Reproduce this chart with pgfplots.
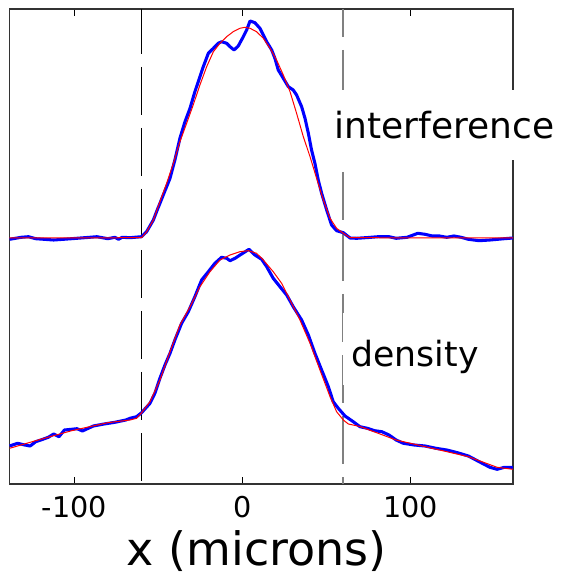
\documentclass[border=0pt]{standalone}
\usepackage{fontspec}
\setmainfont{DejaVu Sans}
\usepackage{pgfplots}
\pgfplotsset{compat=1.18}

\definecolor{trace}{RGB}{0,0,255}
\definecolor{fit}{RGB}{255,0,0}

\begin{document}
\begin{tikzpicture}
\useasboundingbox (-7.1pt,-70.5pt) rectangle (415.9pt,363pt);
\begin{axis}[
  at={(0,0)}, anchor=south west,
  scale only axis, width=377.6pt, height=356.25pt,
  xmin=-138.5, xmax=161, ymin=0, ymax=475,
  xtick={-100,0,100}, ytick=\empty,
  tick align=inside, major tick length=5pt,
  clip=false,
  axis line style={black!80, line width=1pt},
  xtick style={black, line width=0.8pt},
  xticklabel style={font=\fontsize{21.5}{24}\selectfont, anchor=base, yshift=-24.75pt},
  /pgf/number format/assume math mode=true,
]
% boundaries of the central region
\draw[black, line width=0.85pt, dash pattern=on 36pt off 9.75pt, dash phase=2.25pt]
  (axis cs:-60,475) -- (axis cs:-60,0);
\draw[black!50, line width=1.15pt, dash pattern=on 36pt off 9.75pt, dash phase=15pt]
  (axis cs:60,475) -- (axis cs:60,0);

% interference profile (measured)
\addplot[trace, line width=2.3pt, line join=round] coordinates {
(-138.4,244.7) (-131.5,246.7) (-127.2,247.3) (-122.9,245.3) (-112.2,244.0)
(-101.5,245.3) (-90.8,246.7) (-86.5,247.3) (-80.0,245.3) (-75.8,246.7)
(-73.6,244.7) (-71.5,246.7) (-66.8,246.3) (-59.9,247.3) (-56.9,252.3)
(-52.9,264.0) (-51.0,272.3) (-47.0,289.0) (-43.0,305.7) (-40.1,324.0)
(-37.1,345.7) (-34.1,362.3) (-31.1,375.7) (-28.2,392.3) (-25.2,407.3)
(-23.2,417.3) (-20.2,430.7) (-17.2,435.7) (-14.3,440.7) (-12.3,442.3)
(-9.3,440.7) (-7.3,437.3) (-4.9,434.0) (-2.4,438.0) (0.6,447.3)
(2.6,454.0) (4.6,463.0) (7.5,461.3) (10.5,455.7) (12.5,449.0)
(14.5,442.3) (17.5,434.0) (19.4,425.7) (21.4,414.0) (24.4,405.7)
(27.4,397.3) (30.3,394.0) (32.3,389.0) (35.3,377.3) (37.3,365.7)
(39.3,350.7) (41.2,334.0) (43.2,320.7) (45.2,304.0) (47.2,290.7)
(50.2,274.0) (53.1,259.0) (56.1,253.3) (60.1,251.3) (64.1,246.0)
(68.0,245.7) (75.0,246.5) (80.8,247.3) (87.3,247.3) (91.5,245.7)
(98.0,246.7) (104.4,250.7) (108.7,249.7) (113.0,248.0) (117.3,248.0)
(121.6,246.7) (125.9,248.0) (130.2,246.7) (134.5,244.7) (140.9,243.3)
(147.3,244.0) (155.9,245.3) (161.0,246.0)
};
% interference profile (fit)
\addplot[fit, line width=0.75pt] coordinates {
(-138.5,246.0) (-59.9,246.3) (-56.9,252.3) (-52.9,264.0) (-49.0,282.3)
(-45.0,300.7) (-41.0,320.7) (-37.1,342.3) (-33.1,360.7) (-29.2,379.0)
(-25.2,399.0) (-21.2,417.3) (-17.2,432.3) (-13.3,440.7) (-9.3,447.3)
(-5.4,452.3) (-1.4,455.7) (1.6,456.7) (4.6,455.7) (8.5,452.3)
(12.5,445.7) (16.5,435.7) (20.4,424.0) (24.4,409.0) (28.4,392.3)
(32.3,370.7) (36.3,347.3) (40.3,327.3) (44.2,305.7) (48.2,284.0)
(52.2,265.7) (56.1,255.7) (60.1,250.7) (64.1,246.3) (161.0,246.0)
};

% density profile (measured)
\addplot[trace, line width=2.3pt, line join=round] coordinates {
(-138.4,38.0) (-133.7,40.7) (-129.4,39.0) (-126.2,38.0) (-122.9,42.3)
(-118.7,44.7) (-115.4,46.7) (-112.2,50.0) (-109.0,47.3) (-105.8,54.0)
(-101.5,54.7) (-98.3,55.3) (-95.1,53.0) (-88.6,58.0) (-82.2,60.0)
(-75.8,61.7) (-69.3,64.0) (-66.8,65.7) (-62.9,67.3) (-59.9,71.3)
(-54.9,80.7) (-52.0,90.7) (-49.0,105.7) (-46.0,119.0) (-43.0,130.7)
(-40.1,144.0) (-36.1,160.7) (-32.1,172.3) (-28.2,187.3) (-24.2,204.0)
(-20.2,212.3) (-16.3,220.7) (-12.3,226.7) (-9.3,225.7) (-7.3,223.3)
(-4.3,225.7) (-0.4,230.0) (4.0,234.7) (7.5,229.0) (11.5,224.7)
(14.5,217.3) (18.4,205.7) (22.4,197.3) (26.4,189.0) (30.3,177.3)
(35.3,164.0) (39.3,149.0) (43.2,130.7) (47.2,114.0) (51.2,97.3)
(54.1,82.3) (57.1,75.7) (61.1,68.0) (66.0,62.3) (70.0,57.3)
(74.4,55.7) (78.7,53.3) (83.0,52.3) (87.3,49.0) (91.5,44.0)
(95.8,40.7) (102.3,39.0) (108.7,38.0) (115.2,35.7) (121.6,34.0)
(128.0,31.3) (134.5,28.0) (140.9,22.3) (147.3,16.7) (151.6,14.7)
(155.9,16.7) (161.0,16.7)
};
% density profile (fit)
\addplot[fit, line width=0.75pt] coordinates {
(-138.4,35.7) (-122.9,43.3) (-101.5,53.3) (-80.0,61.3) (-66.8,64.0)
(-62.9,65.7) (-59.9,71.3) (-54.9,82.3) (-49.0,104.0) (-43.0,132.3)
(-37.1,159.0) (-31.1,177.3) (-25.2,197.3) (-19.2,212.3) (-13.3,224.0)
(-7.3,229.0) (-1.4,232.3) (3.6,233.3) (8.5,230.7) (12.5,224.0)
(18.4,212.3) (23.4,200.7) (28.4,184.0) (34.3,164.0) (40.3,140.7)
(46.2,114.0) (52.2,87.3) (56.1,72.3) (60.1,64.0) (63.1,60.0)
(70.0,57.5) (91.5,44.0) (113.0,35.7) (134.5,27.3) (151.6,16.7)
(161.0,14.7)
};

\coordinate (interf) at (axis cs:54.7,345);
\coordinate (dens)   at (axis cs:64.8,117);
\coordinate (xlab)   at (axis cs:8.6,-81);
\end{axis}

\node[anchor=base west, fill=white, inner xsep=4pt, inner ysep=0pt,
      text height=36.75pt, text depth=15.75pt,
      font=\fontsize{27}{30}\selectfont] at ([xshift=-4pt]interf) {interference};
\node[anchor=base west, fill=white, inner xsep=6pt, inner ysep=0pt,
      text height=40.5pt, text depth=13.5pt,
      font=\fontsize{26}{30}\selectfont] at ([xshift=-6pt]dens) {density};
\node[anchor=base, font=\fontsize{34.5}{40}\selectfont] at (xlab) {x (microns)};
\end{tikzpicture}
\end{document}
